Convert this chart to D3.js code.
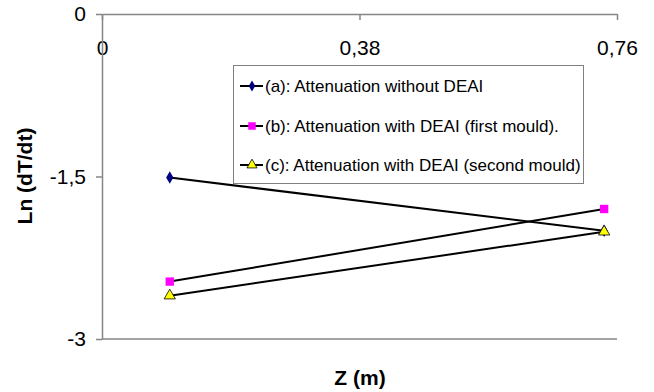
<!DOCTYPE html>
<html>
<head>
<meta charset="utf-8">
<script src="https://cdn.jsdelivr.net/npm/d3@7"></script>
<style>
  body { margin: 0; background: #fff; }
  text { font-family: "Liberation Sans", Arial, sans-serif; }
</style>
</head>
<body>
<div id="chart"></div>
<script>
// data
var zValues = [0.100, 0.741];
var seriesA = [-1.51, -2.00];
var seriesB = [-2.47, -1.80];
var seriesC = [-2.60, -2.01];
var seriesNames = [
  "(a): Attenuation without DEAI",
  "(b): Attenuation with DEAI (first mould).",
  "(c): Attenuation with DEAI (second mould)"
];
var xTicks = [0, 0.38, 0.76];
var yTicks = [0, -1.5, -3];

var width = 654, height = 392;
var svg = d3.select("#chart").append("svg")
  .attr("width", width).attr("height", height);

// plot area
var x = d3.scaleLinear().domain([0, 0.76]).range([102, 617]);
var y = d3.scaleLinear().domain([0, -3]).range([14, 339]);
var fmt = function (d) { return String(d).replace(".", ","); };

var axisColor = "#868686";

// bottom border line
svg.append("line")
  .attr("x1", x(0)).attr("x2", x(0.76))
  .attr("y1", y(-3)).attr("y2", y(-3))
  .attr("stroke", axisColor).attr("stroke-width", 1.5);

// x axis at top, ticks pointing down, labels below
var xAxis = svg.append("g")
  .attr("transform", "translate(0," + y(0) + ")")
  .call(d3.axisBottom(x).tickValues(xTicks).tickSize(6).tickSizeOuter(0).tickFormat(fmt));
xAxis.select(".domain").attr("stroke", axisColor).attr("stroke-width", 1.5);
xAxis.selectAll(".tick line").attr("stroke", axisColor).attr("stroke-width", 1.5);
xAxis.selectAll(".tick text")
  .attr("y", 41).attr("dy", null)
  .attr("font-size", 21).attr("fill", "#000");

// y axis
var yAxis = svg.append("g")
  .attr("transform", "translate(" + x(0) + ",0)")
  .call(d3.axisLeft(y).tickValues(yTicks).tickSize(6).tickSizeOuter(0).tickFormat(fmt));
yAxis.select(".domain").attr("stroke", axisColor).attr("stroke-width", 1.5);
yAxis.selectAll(".tick line").attr("stroke", axisColor).attr("stroke-width", 1.5);
yAxis.selectAll(".tick text")
  .attr("x", -16)
  .attr("font-size", 21).attr("fill", "#000");

// axis titles
svg.append("text")
  .attr("x", 360).attr("y", 385)
  .attr("text-anchor", "middle")
  .attr("font-size", 21).attr("font-weight", "bold")
  .text("Z (m)");
svg.append("text")
  .attr("transform", "translate(32,176) rotate(-90)")
  .attr("text-anchor", "middle")
  .attr("font-size", 21).attr("font-weight", "bold")
  .text("Ln (dT/dt)");

// series
var series = [
  { name: seriesNames[0], values: seriesA, shape: d3.symbolDiamond, size: 45, fill: "#000080", stroke: "#000080" },
  { name: seriesNames[1], values: seriesB, shape: d3.symbolSquare, size: 70, fill: "#ff00ff", stroke: "#ff00ff" },
  { name: seriesNames[2], values: seriesC, shape: d3.symbolTriangle, size: 55, fill: "#ffff00", stroke: "#000" }
];

var line = d3.line()
  .x(function (d) { return x(d[0]); })
  .y(function (d) { return y(d[1]); });

series.forEach(function (s) {
  var pts = zValues.map(function (z, i) { return [z, s.values[i]]; });
  svg.append("path")
    .attr("d", line(pts))
    .attr("fill", "none")
    .attr("stroke", "#000")
    .attr("stroke-width", 2);
  svg.selectAll(null).data(pts).enter().append("path")
    .attr("d", d3.symbol().type(s.shape).size(s.size))
    .attr("transform", function (d) { return "translate(" + x(d[0]) + "," + y(d[1]) + ")"; })
    .attr("fill", s.fill)
    .attr("stroke", s.stroke)
    .attr("stroke-width", s.stroke === "#000" ? 0.8 : 0);
});

// legend
var lg = svg.append("g");
lg.append("rect")
  .attr("x", 233.5).attr("y", 65.5)
  .attr("width", 350).attr("height", 118)
  .attr("fill", "#fff")
  .attr("stroke", "#808080").attr("stroke-width", 1);
var rowY = [86, 126, 165];
series.forEach(function (s, i) {
  var g = lg.append("g").attr("transform", "translate(0," + rowY[i] + ")");
  g.append("line")
    .attr("x1", 240).attr("x2", 263)
    .attr("y1", 0).attr("y2", 0)
    .attr("stroke", "#000").attr("stroke-width", 2);
  g.append("path")
    .attr("d", d3.symbol().type(s.shape).size(s.size * 0.8))
    .attr("transform", "translate(252,0)")
    .attr("fill", s.fill)
    .attr("stroke", s.stroke)
    .attr("stroke-width", s.stroke === "#000" ? 0.8 : 0);
  g.append("text")
    .attr("x", 265).attr("y", 0).attr("dy", "0.35em")
    .attr("font-size", 17).attr("fill", "#000")
    .text(s.name);
});
</script>
</body>
</html>
